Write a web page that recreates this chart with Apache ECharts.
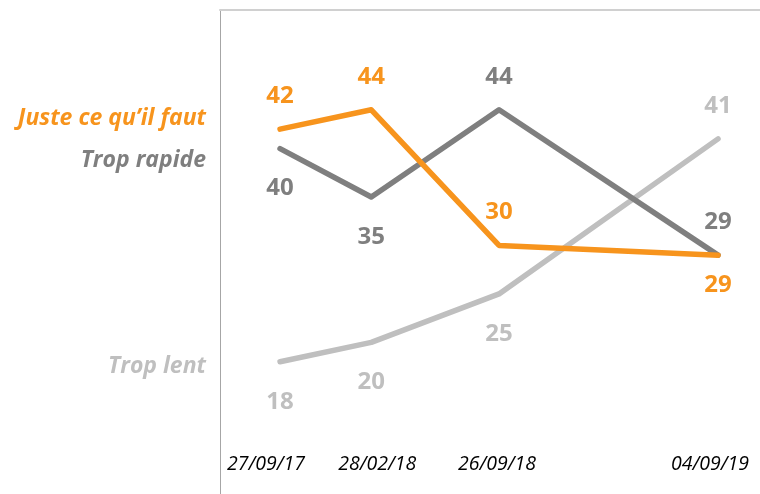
<!DOCTYPE html>
<html>
<head>
<meta charset="utf-8">
<script src="https://cdn.jsdelivr.net/npm/echarts@6.0.0/dist/echarts.min.js"></script>
<style>
  html, body { margin: 0; padding: 0; background: #fff; }
  #chart { width: 760px; height: 494px; }
</style>
</head>
<body>
<div id="chart"></div>
<script>
// dates of each survey and how they are written under the axis
var dates = ['2017-09-27', '2018-02-28', '2018-09-26', '2019-09-04'];
var dateLabels = ['27/09/17', '28/02/18', '26/09/18', '04/09/19'];

var seriesNames = ['Juste ce qu\u2019il faut', 'Trop rapide', 'Trop lent'];
var justeCe = [42, 44, 30, 29];
var tropRapide = [40, 35, 44, 29];
var tropLent = [18, 20, 25, 41];

var colors = ['#F7941D', '#7F7F7F', '#BFBFBF'];
// where each value label sits, and how far from the line
var labelPos = [
    ['top', 'top', 'top', 'bottom'],
    ['bottom', 'bottom', 'top', 'top'],
    ['bottom', 'bottom', 'bottom', 'top']
];
var labelDist = [
    [21, 21, 21, 18],
    [28, 28, 21, 21],
    [28, 28, 28, 21]
];
// small horizontal nudges of the date labels (px, + = right)
var dateShift = [-14, 6, -2, -8];

// date axis counted in months (like the original spreadsheet axis)
function monthIndex(d) {
    var p = d.split('-');
    return parseInt(p[0], 10) * 12 + parseInt(p[1], 10) - 1;
}
var base = monthIndex(dates[0]);
var months = dates.map(function (d) { return monthIndex(d) - base; });

var myChart = echarts.init(document.getElementById('chart'));
var font = '"Open Sans", Lato, sans-serif';

function buildSeries(idx, values) {
    return {
        name: seriesNames[idx],
        type: 'line',
        xAxisIndex: 0,
        symbol: 'circle',
        symbolSize: 0,
        lineStyle: { color: colors[idx], width: 5.5, cap: 'round', join: 'round' },
        itemStyle: { color: colors[idx] },
        label: {
            show: true,
            color: colors[idx],
            fontFamily: font,
            fontWeight: 'bold',
            fontSize: 24
        },
        data: values.map(function (v, i) {
            return {
                value: [months[i], v],
                label: { position: labelPos[idx][i], distance: labelDist[idx][i] }
            };
        }),
        animation: false
    };
}

var nameY = [116, 158, 364];

// rich styles used to nudge each date label sideways
var rich = {};
dateShift.forEach(function (s, i) {
    rich['d' + i] = {
        color: '#000',
        fontFamily: font,
        fontStyle: 'italic',
        fontSize: 19.5,
        padding: s < 0 ? [0, -2 * s, 0, 0] : [0, 0, 0, 2 * s]
    };
});

var option = {
    animation: false,
    grid: { left: 220, top: 10, right: 0, bottom: 0 },
    xAxis: [{
        type: 'value',
        min: -3.29,
        max: 26.3,
        axisLine: { show: false },
        axisTick: { show: false },
        splitLine: { show: false },
        axisLabel: {
            inside: true,
            margin: 20,
            customValues: months,
            rich: rich,
            formatter: function (v) {
                var i = months.indexOf(v);
                return i >= 0 ? '{d' + i + '|' + dateLabels[i] + '}' : '';
            }
        }
    }, {
        type: 'value',
        position: 'top',
        min: -3.29,
        max: 26.3,
        axisLine: { show: true, onZero: false, lineStyle: { color: '#D0D0D0', width: 2 } },
        axisTick: { show: false },
        axisLabel: { show: false },
        splitLine: { show: false }
    }],
    yAxis: {
        type: 'value',
        min: 4.35,
        max: 54.3,
        axisLine: { show: true, onZero: false, lineStyle: { color: '#A6A6A6', width: 1 } },
        axisTick: { show: false },
        axisLabel: { show: false },
        splitLine: { show: false }
    },
    graphic: seriesNames.map(function (n, i) {
        return {
            type: 'text',
            right: 760 - 206,
            top: nameY[i] - 9,
            style: {
                text: n,
                fill: colors[i],
                font: 'italic bold 23px ' + font,
                textAlign: 'right'
            }
        };
    }),
    series: [
        buildSeries(2, tropLent),
        buildSeries(1, tropRapide),
        buildSeries(0, justeCe)
    ]
};

myChart.setOption(option);
</script>
</body>
</html>
